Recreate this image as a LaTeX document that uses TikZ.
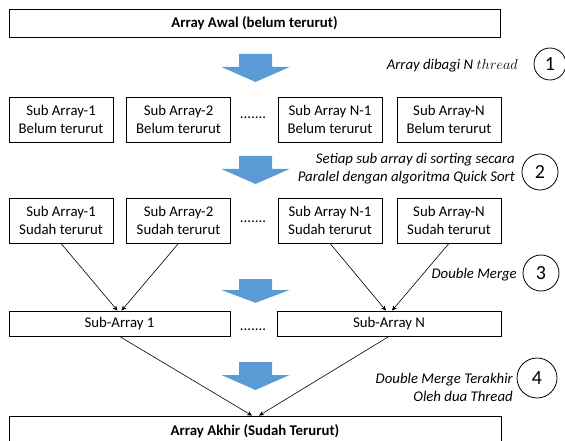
\documentclass[tikz,border=0pt]{standalone}
\usepackage{fontspec}
\setmainfont{Carlito}
\usetikzlibrary{arrows.meta, positioning}

\definecolor{panahbiru}{RGB}{91,155,213}
\newcommand{\ukuran}{\fontsize{14.8}{17.5}\selectfont}

\begin{document}
\begin{tikzpicture}[>=Stealth, x=1pt, y=-1pt, font=\ukuran,
    kotak/.style={draw, line width=0.8pt, inner sep=0pt, align=center},
    ket/.style={anchor=east, align=right, inner sep=0pt, font=\ukuran\itshape},
    nomor/.style={draw, circle, line width=0.8pt, inner sep=0pt, font=\fontsize{20}{20}\selectfont},
    titik/.style={inner sep=0pt},
    garis/.style={-{Stealth[length=5pt, width=4.5pt]}, line width=0.6pt},
    panah/.pic={\fill[panahbiru] (-16.5,0) -- (16.5,0) -- (16.5,13) -- (34,13)
                -- (0,28) -- (-34,13) -- (-16.5,13) -- cycle;}]

    % posisi baris dan kolom (dalam px)
    \def\yA{23}       % array awal
    \def\yB{119.5}    % sub array belum terurut
    \def\yC{220.5}    % sub array sudah terurut
    \def\yD{323.5}    % hasil double merge
    \def\yE{431}      % array akhir
    \def\lb{104}      % lebar kotak sub array

    \useasboundingbox (0,0) rectangle (565,441);

    % 1. array awal dan pembagian ke N thread
    \node[kotak, minimum width=491, minimum height=28, font=\ukuran\bfseries] (awal) at (254.5,\yA) {Array Awal (belum terurut)};
    \pic at (255.5,54) {panah};
    \node[nomor, minimum size=32] (n1) at (550,64) {1};
    \node[ket] (k1) at (518,66) {Array dibagi N $thread$};

    \node[kotak, minimum width=\lb, minimum height=45] (b1) at (61,\yB) {Sub Array-1\\Belum terurut};
    \node[kotak, minimum width=\lb, minimum height=45] (b2) at (178.5,\yB) {Sub Array-2\\Belum terurut};
    \node[titik] (tb) at (253,118) {.......};
    \node[kotak, minimum width=\lb, minimum height=45] (b3) at (330,\yB) {Sub Array N-1\\Belum terurut};
    \node[kotak, minimum width=\lb, minimum height=45] (b4) at (449,\yB) {Sub Array-N\\Belum terurut};

    % 2. sorting paralel tiap sub array
    \pic at (255.5,156) {panah};
    \node[nomor, minimum size=36] (n2) at (540,172) {2};
    \node[ket] (k2) at (515,168.5) {Setiap sub array di sorting secara\\Paralel dengan algoritma Quick Sort};

    \node[kotak, minimum width=\lb, minimum height=45] (s1) at (61,\yC) {Sub Array-1\\Sudah terurut};
    \node[kotak, minimum width=\lb, minimum height=45] (s2) at (178.5,\yC) {Sub Array-2\\Sudah terurut};
    \node[titik] (ts) at (253,222) {.......};
    \node[kotak, minimum width=\lb, minimum height=45] (s3) at (330,\yC) {Sub Array N-1\\Sudah terurut};
    \node[kotak, minimum width=\lb, minimum height=45] (s4) at (449,\yC) {Sub Array-N\\Sudah terurut};

    % 3. double merge
    \pic[yscale=0.85] at (255.5,279) {panah};
    \node[nomor, minimum size=36] (n3) at (541,273) {3};
    \node[ket] (k3) at (517,275) {Double Merge};

    \node[kotak, minimum width=221, minimum height=25] (m1) at (119.5,\yD) {Sub-Array 1};
    \node[titik] (tm) at (253,330) {.......};
    \node[kotak, minimum width=224, minimum height=25] (m2) at (389,\yD) {Sub-Array N};

    \draw[garis] (s1.south) -- ([xshift=-2]m1.north);
    \draw[garis] (s2.south) -- ([xshift=2]m1.north);
    \draw[garis] (s3.south) -- ([xshift=-3]m2.north);
    \draw[garis] (s4.south) -- ([xshift=3]m2.north);

    % 4. merge terakhir oleh dua thread
    \pic at (255.5,362) {panah};
    \node[nomor, minimum size=40] (n4) at (537,378) {4};
    \node[ket] (k4) at (513,387.5) {Double Merge Terakhir\\Oleh dua Thread};

    \node[kotak, minimum width=492, minimum height=30, font=\ukuran\bfseries] (akhir) at (255,\yE) {Array Akhir (Sudah Terurut)};

    \draw[garis] (m1.south) -- ([xshift=-3]akhir.north);
    \draw[garis] (m2.south) -- ([xshift=4]akhir.north);

\end{tikzpicture}
\end{document}
